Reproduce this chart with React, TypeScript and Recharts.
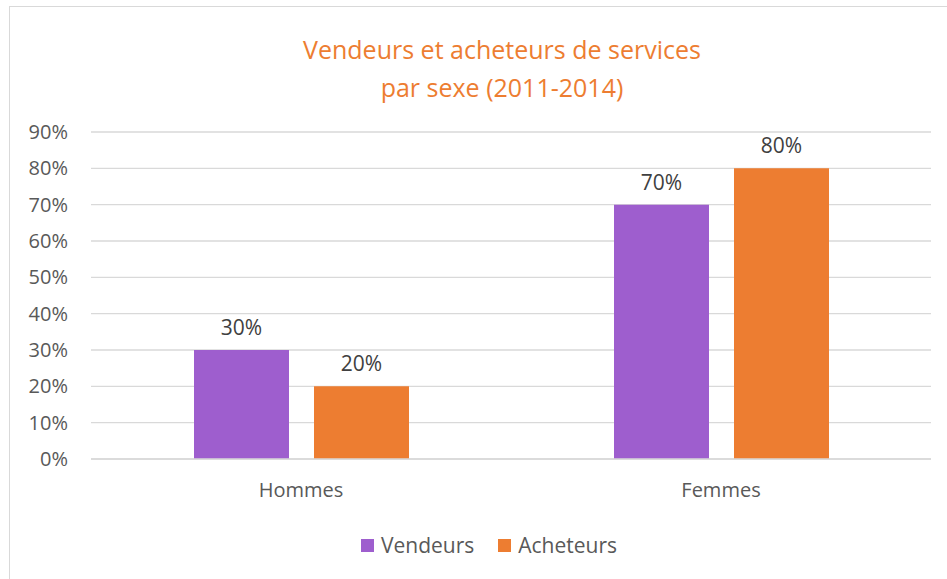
import { BarChart, Bar, XAxis, YAxis, CartesianGrid, Legend, LabelList } from 'recharts';

const categories = ['Hommes', 'Femmes'];
const vendeurs = [30, 70];
const acheteurs = [20, 80];
const yTicks = [0, 10, 20, 30, 40, 50, 60, 70, 80, 90];
const seriesNames = ['Vendeurs', 'Acheteurs'];
const seriesColors = ['#9E5ECE', '#ED7D31'];

const data = categories.map((name, i) => ({
  name,
  Vendeurs: vendeurs[i],
  Acheteurs: acheteurs[i],
}));

const FONT = '"Open Sans", sans-serif';
const TEXT = '#595959';

// legend keeps series order, not alphabetical
const ChartLegend = () => (
  <div style={{ display: 'flex', justifyContent: 'center', alignItems: 'center', fontSize: 21, color: TEXT, lineHeight: '28px' }}>
    {seriesNames.map((s, i) => (
      <div key={s} style={{ display: 'flex', alignItems: 'center', marginRight: i === 0 ? 24 : 0 }}>
        <span style={{ display: 'inline-block', width: 13, height: 13, background: seriesColors[i], marginRight: 7 }} />
        <span>{s}</span>
      </div>
    ))}
  </div>
);

export default function App() {
  return (
    <div style={{ position: 'absolute', left: 0, top: 0, width: 947, height: 579, overflow: 'hidden', fontFamily: FONT }}>
      {/* chart frame, only left/top edges visible */}
      <div
        style={{
          position: 'absolute',
          left: 9,
          top: 6,
          width: 938,
          height: 573,
          borderLeft: '1px solid #d9d9d9',
          borderTop: '1px solid #d9d9d9',
          boxSizing: 'border-box',
        }}
      />
      <div
        style={{
          position: 'absolute',
          left: 202,
          top: 30,
          width: 600,
          textAlign: 'center',
          color: '#ED7D31',
          fontSize: 25,
          lineHeight: '38px',
        }}
      >
        Vendeurs et acheteurs de services
        <br />
        par sexe (2011-2014)
      </div>
      <div style={{ position: 'absolute', left: 0, top: 0 }}>
        <BarChart
          width={947}
          height={579}
          data={data}
          margin={{ top: 132, right: 16, left: 11, bottom: 0 }}
          barCategoryGap={103}
          barGap={25}
        >
          <CartesianGrid vertical={false} stroke="#d9d9d9" strokeWidth={1.3} />
          <XAxis
            dataKey="name"
            height={92}
            axisLine={{ stroke: '#d9d9d9', strokeWidth: 1.3 }}
            tickLine={false}
            tickMargin={18}
            tick={{ fill: TEXT, fontSize: 20, fontFamily: FONT }}
          />
          <YAxis
            width={80}
            domain={[0, 90]}
            ticks={yTicks}
            interval={0}
            axisLine={false}
            tickLine={false}
            tickMargin={17}
            tickFormatter={(v) => `${v}%`}
            tick={{ fill: TEXT, fontSize: 20, fontFamily: FONT }}
          />
          <Legend
            verticalAlign="bottom"
            content={<ChartLegend />}
            wrapperStyle={{ left: 339, width: 300, top: 531 }}
          />
          <Bar dataKey="Vendeurs" fill={seriesColors[0]} isAnimationActive={false}>
            <LabelList
              dataKey="Vendeurs"
              position="top"
              offset={15}
              formatter={(v: number) => `${v}%`}
              style={{ fill: '#404040', fontSize: 21, fontFamily: FONT }}
            />
          </Bar>
          <Bar dataKey="Acheteurs" fill={seriesColors[1]} isAnimationActive={false}>
            <LabelList
              dataKey="Acheteurs"
              position="top"
              offset={15}
              formatter={(v: number) => `${v}%`}
              style={{ fill: '#404040', fontSize: 21, fontFamily: FONT }}
            />
          </Bar>
        </BarChart>
      </div>
    </div>
  );
}
